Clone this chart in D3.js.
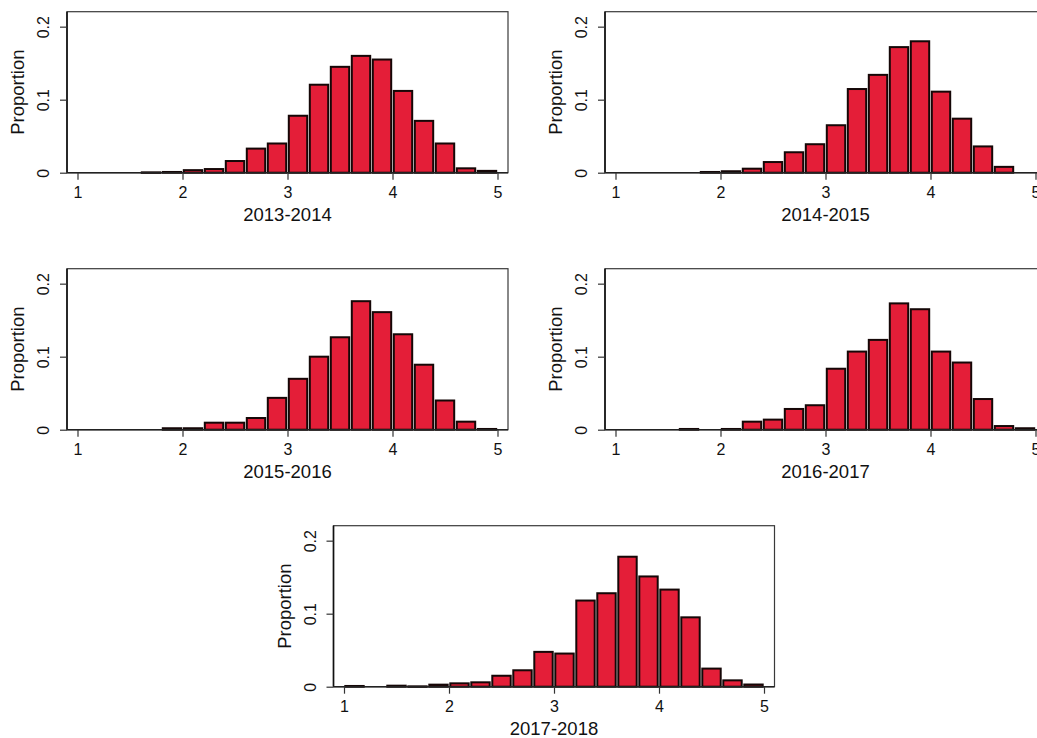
<!DOCTYPE html>
<html>
<head>
<meta charset="utf-8">
<script src="https://cdn.jsdelivr.net/npm/d3@7"></script>
<style>
  html, body { margin: 0; padding: 0; background: #fff; overflow: hidden; }
  svg { display: block; font-family: "Liberation Sans", Arial, sans-serif; }
</style>
</head>
<body>
<svg id="chart" width="1037" height="738"></svg>
<script>
// ---- data ----
const binStarts = [1.0, 1.2, 1.4, 1.6, 1.8, 2.0, 2.2, 2.4, 2.6, 2.8, 3.0, 3.2, 3.4, 3.6, 3.8, 4.0, 4.2, 4.4, 4.6, 4.8];
const binWidth = 0.2;
const years = ["2013-2014", "2014-2015", "2015-2016", "2016-2017", "2017-2018"];
const p2013 = [0, 0, 0, 0.0005, 0.001, 0.0035, 0.005, 0.016, 0.033, 0.040, 0.078, 0.1205, 0.145, 0.160, 0.155, 0.112, 0.071, 0.040, 0.006, 0.0025];
const p2014 = [0, 0, 0, 0, 0.001, 0.002, 0.0055, 0.0146, 0.028, 0.039, 0.065, 0.1146, 0.134, 0.172, 0.180, 0.111, 0.074, 0.036, 0.008, 0];
const p2015 = [0, 0, 0, 0, 0.002, 0.002, 0.0096, 0.0096, 0.016, 0.0436, 0.0697, 0.100, 0.1266, 0.176, 0.161, 0.1307, 0.089, 0.040, 0.011, 0.001];
const p2016 = [0, 0, 0, 0.001, 0, 0.001, 0.011, 0.0138, 0.0284, 0.0335, 0.0835, 0.107, 0.123, 0.173, 0.165, 0.107, 0.092, 0.042, 0.005, 0.002];
const p2017 = [0.001, 0, 0.0014, 0.0005, 0.0028, 0.0046, 0.006, 0.015, 0.0225, 0.0477, 0.0454, 0.118, 0.128, 0.178, 0.151, 0.133, 0.095, 0.0248, 0.0087, 0.003];
const seriesList = [p2013, p2014, p2015, p2016, p2017];
const xTicks = [1, 2, 3, 4, 5];
const yTicks = [0, 0.1, 0.2];
const yTickLabels = ["0", "0.1", "0.2"];
const yTitle = "Proportion";

// ---- layout ----
const panelOrigins = [[67, 11.7], [605, 11.7], [67, 268.7], [605, 268.7], [333.5, 525.7]];
const boxW = 441, boxH = 161;
const fillColor = "#e41e38";
const strokeColor = "#150707";

const svg = d3.select("#chart");

const x = d3.scaleLinear().domain([0.9, 5.1]).range([0, boxW]);
const y = d3.scaleLinear().domain([0, 0.2205]).range([boxH, 0]);

years.forEach((yr, i) => {
  const [ox, oy] = panelOrigins[i];
  const g = svg.append("g").attr("transform", `translate(${ox},${oy})`);
  const vals = seriesList[i];

  // box (top & right lighter)
  g.append("rect")
    .attr("x", 0).attr("y", 0).attr("width", boxW).attr("height", boxH)
    .attr("fill", "none").attr("stroke", "#3a3a3a").attr("stroke-width", 1.2);

  // bars
  const data = binStarts.map((b, k) => ({ x0: b, x1: b + binWidth, v: vals[k] })).filter(d => d.v > 0);
  g.selectAll("rect.bar").data(data).enter().append("rect")
    .attr("class", "bar")
    .attr("x", d => x(d.x0) + 1.3)
    .attr("width", d => x(d.x1) - x(d.x0) - 2.6)
    .attr("y", d => y(d.v))
    .attr("height", d => Math.max(0.5, y(0) - y(d.v)))
    .attr("fill", fillColor)
    .attr("stroke", strokeColor)
    .attr("stroke-width", 2);

  // y axis
  const yAxis = d3.axisLeft(y).tickValues(yTicks).tickSize(7).tickPadding(0).tickFormat((d, k) => yTickLabels[k]);
  const ya = g.append("g").call(yAxis);
  ya.select(".domain").attr("stroke", "#111").attr("stroke-width", 1.6).attr("d", `M0,0V${boxH}`);
  ya.selectAll(".tick line").attr("stroke", "#333").attr("stroke-width", 1.2);
  ya.selectAll(".tick text")
    .attr("x", 0).attr("y", 0).attr("dy", null)
    .attr("transform", "translate(-18,0) rotate(-90)")
    .attr("text-anchor", "middle")
    .attr("font-size", 16).attr("fill", "#111")
    .attr("font-family", "'Liberation Sans', Arial, sans-serif");

  // x axis
  const xAxis = d3.axisBottom(x).tickValues(xTicks).tickSize(7).tickPadding(0).tickFormat(d3.format("d"));
  const xa = g.append("g").attr("transform", `translate(0,${boxH})`).call(xAxis);
  xa.select(".domain").attr("stroke", "#222").attr("stroke-width", 1.4).attr("d", `M0,0H${boxW}`);
  xa.selectAll(".tick line").attr("stroke", "#333").attr("stroke-width", 1.2);
  xa.selectAll(".tick text")
    .attr("y", 25.5).attr("dy", null)
    .attr("font-size", 16).attr("fill", "#111")
    .attr("font-family", "'Liberation Sans', Arial, sans-serif");

  // y title
  g.append("text")
    .attr("transform", `translate(-43,${boxH / 2}) rotate(-90)`)
    .attr("text-anchor", "middle")
    .attr("font-size", 18.5).attr("fill", "#111")
    .text(yTitle);

  // x title
  g.append("text")
    .attr("x", (x(1) + x(5)) / 2).attr("y", boxH + 48)
    .attr("text-anchor", "middle")
    .attr("font-size", 18.5).attr("fill", "#111")
    .text(yr);
});
</script>
</body>
</html>
